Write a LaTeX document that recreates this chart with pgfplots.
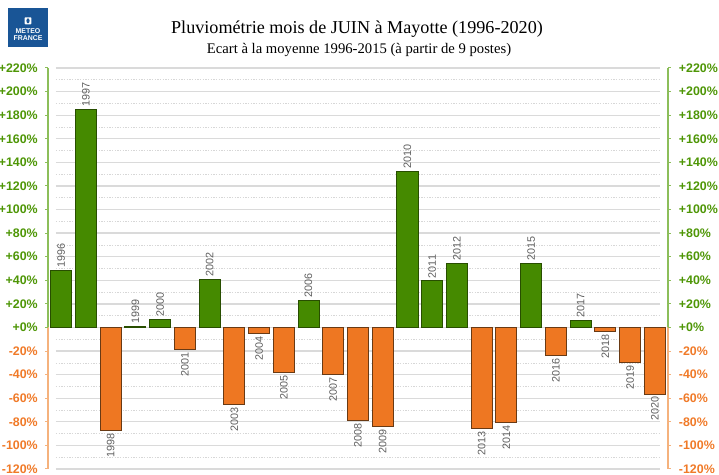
\documentclass[border=0pt]{standalone}
\usepackage{pgfplots}
\pgfplotsset{compat=1.18}
\usepackage{pgfplotstable}
\usepackage{fontspec}
\setmainfont{Liberation Serif}
\newfontfamily\arial{Liberation Sans}
\definecolor{barGreen}{RGB}{69,138,0}
\definecolor{barGreenEdge}{RGB}{40,78,0}
\definecolor{barOrange}{RGB}{238,119,34}
\definecolor{barOrangeEdge}{RGB}{105,58,20}
\definecolor{tickGreen}{RGB}{78,150,6}
\definecolor{tickOrange}{RGB}{240,122,40}
\definecolor{axisGreen}{RGB}{140,190,90}
\definecolor{axisOrange}{RGB}{245,178,125}
\definecolor{gridMajor}{RGB}{218,218,218}
\definecolor{gridMinor}{RGB}{215,215,215}
\definecolor{logoBlue}{RGB}{25,85,150}
\definecolor{labelGray}{RGB}{95,95,95}

\pgfplotstableread{
x y lab
0 48.5 1996
1 185 1997
3 0.6 1999
4 7 2000
6 41 2002
10 23 2006
14 132 2010
15 39.5 2011
16 54 2012
19 54.5 2015
21 6.2 2017
}\pos
\pgfplotstableread{
x y lab
2 -87.6 1998
5 -19 2001
7 -65 2003
8 -5.4 2004
9 -38 2005
11 -40 2007
12 -79 2008
13 -84 2009
17 -86 2013
18 -80.8 2014
20 -23.7 2016
22 -3.7 2018
23 -29.7 2019
24 -56.5 2020
}\neg

\pgfplotsset{
  common/.style={
    at={(36pt,4.5pt)}, anchor=south west,
    scale only axis, width=465pt, height=300.75pt,
    xmin=-0.533, xmax=24.533, ymin=-120, ymax=220,
    axis x line=none,
    y axis line style={draw=none},
    major tick length=0pt,
    ytick={-120,-100,...,220},
    yticklabels={
      \textcolor{tickOrange}{-120\%},\textcolor{tickOrange}{-100\%},
      \textcolor{tickOrange}{-80\%},\textcolor{tickOrange}{-60\%},
      \textcolor{tickOrange}{-40\%},\textcolor{tickOrange}{-20\%},
      \textcolor{tickGreen}{+0\%},\textcolor{tickGreen}{+20\%},
      \textcolor{tickGreen}{+40\%},\textcolor{tickGreen}{+60\%},
      \textcolor{tickGreen}{+80\%},\textcolor{tickGreen}{+100\%},
      \textcolor{tickGreen}{+120\%},\textcolor{tickGreen}{+140\%},
      \textcolor{tickGreen}{+160\%},\textcolor{tickGreen}{+180\%},
      \textcolor{tickGreen}{+200\%},\textcolor{tickGreen}{+220\%}},
    clip=false,
  }
}

\begin{document}
\begin{tikzpicture}
\useasboundingbox (0,0) rectangle (539.25pt,356.25pt);
% logo
\fill[logoBlue] (6pt,321pt) rectangle (36pt,350.25pt);
\fill[white, rounded corners=0.5pt] (18.5pt,338pt) rectangle (23.5pt,343.2pt);
\fill[logoBlue] (21pt,340.6pt) ellipse (1.2pt and 1.9pt);
\node[white, font=\arial\bfseries\fontsize{5.2}{5.2}\selectfont, inner sep=0pt] at (21pt,332.6pt) {METEO};
\node[white, font=\arial\bfseries\fontsize{5.2}{5.2}\selectfont, inner sep=0pt] at (21pt,327.4pt) {FRANCE};
% titles
\node[anchor=base, font=\fontsize{13.6}{15}\selectfont, inner sep=0pt] at (267.75pt,331.1pt) {Pluviométrie mois de JUIN à Mayotte (1996-2020)};
\node[anchor=base, font=\fontsize{11}{12}\selectfont, inner sep=0pt] at (269.25pt,315.75pt) {Ecart à la moyenne 1996-2015 (à partir de 9 postes)};

\begin{axis}[common,
  axis y line*=left,
  yticklabel style={font=\arial\bfseries\fontsize{9.3}{11}\selectfont, inner sep=0pt, anchor=east, xshift=-7.5pt},
  ybar, bar shift=0pt, bar width=0.85,
  point meta=explicit symbolic,
  nodes near coords,
]
% grid
\pgfplotsinvokeforeach{-110,-90,...,210}{
  \draw[gridMinor, line width=0.5pt, dash pattern=on 1pt off 1pt] (axis cs:-0.21,#1) -- (axis cs:24.21,#1);
}
\pgfplotsinvokeforeach{-120,-100,...,220}{
  \draw[gridMajor, line width=1pt] (axis cs:-0.21,#1) -- (axis cs:24.21,#1);
}
% axis lines and ticks
\draw[axisGreen, line width=0.9pt] (axis cs:-0.533,0) -- (axis cs:-0.533,220);
\draw[axisOrange, line width=0.9pt] (axis cs:-0.533,0) -- (axis cs:-0.533,-120);
\draw[axisGreen, line width=0.9pt] (axis cs:24.533,0) -- (axis cs:24.533,220);
\draw[axisOrange, line width=0.9pt] (axis cs:24.533,0) -- (axis cs:24.533,-120);
\pgfplotsinvokeforeach{0,20,...,220}{
  \draw[axisGreen, line width=0.75pt] (axis cs:-0.533,#1) -- ([xshift=-2.5pt]axis cs:-0.533,#1);
  \draw[axisGreen, line width=0.75pt] (axis cs:24.533,#1) -- ([xshift=2.5pt]axis cs:24.533,#1);
}
\pgfplotsinvokeforeach{-120,-100,...,-20}{
  \draw[axisOrange, line width=0.75pt] (axis cs:-0.533,#1) -- ([xshift=-2.5pt]axis cs:-0.533,#1);
  \draw[axisOrange, line width=0.75pt] (axis cs:24.533,#1) -- ([xshift=2.5pt]axis cs:24.533,#1);
}
\addplot[fill=barGreen, draw=barGreenEdge, line width=0.7pt,
  every node near coord/.append style={rotate=90, anchor=west, inner sep=1.8pt,
    text=labelGray, font=\arial\fontsize{8.1}{9}\selectfont}]
  table[x=x, y=y, meta=lab] {\pos};
\addplot[fill=barOrange, draw=barOrangeEdge, line width=0.7pt,
  every node near coord/.append style={rotate=90, anchor=east, inner sep=1.8pt,
    text=labelGray, font=\arial\fontsize{8.1}{9}\selectfont}]
  table[x=x, y=y, meta=lab] {\neg};
\end{axis}

\begin{axis}[common,
  axis y line*=right,
  yticklabel style={font=\arial\bfseries\fontsize{9.3}{11}\selectfont, inner sep=0pt, anchor=west, xshift=8pt},
]
\end{axis}
\end{tikzpicture}
\end{document}
